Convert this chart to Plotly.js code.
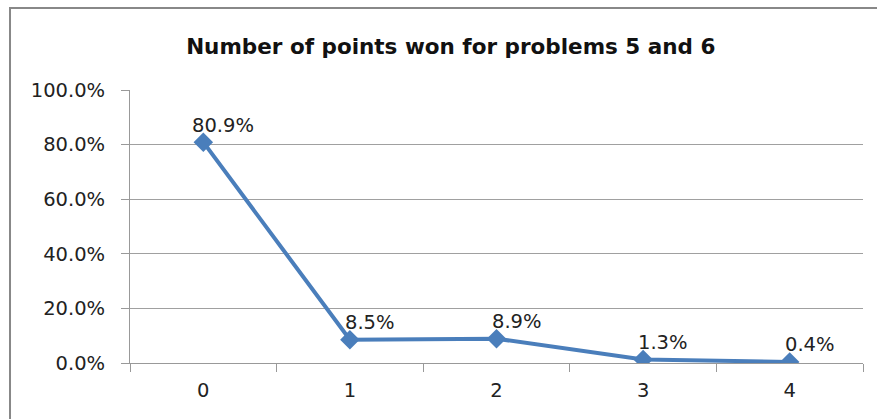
<!DOCTYPE html>
<html>
<head>
<meta charset="utf-8">
<script src="https://cdn.plot.ly/plotly-3.0.1.min.js"></script>
<style>
  html, body { margin: 0; padding: 0; background: #fff; }
  #graphDiv { width: 877px; height: 419px; }
</style>
</head>
<body>
<div id="graphDiv"></div>
<script>
// points won (category) and share of students
var points = ['0', '1', '2', '3', '4'];
var shares = [0.809, 0.085, 0.089, 0.013, 0.004];
var yTicks = [0, 0.2, 0.4, 0.6, 0.8, 1.0];

var lineColor = '#4A7EBB';
var textFont = { family: 'DejaVu Sans', size: 19.5, color: '#222' };

var trace = {
  x: points,
  y: shares,
  type: 'scatter',
  mode: 'lines+markers',
  line: { color: lineColor, width: 4 },
  marker: { symbol: 'diamond', size: 15, color: lineColor },
  hoverinfo: 'skip'
};

// data labels sit above and a little right of each point
var labels = [];
for (var i = 0; i < points.length; i++) {
  labels.push({
    x: points[i],
    y: shares[i],
    text: (shares[i] * 100).toFixed(1) + '%',
    showarrow: false,
    xshift: 20,
    yshift: 17,
    font: textFont
  });
}

var layout = {
  width: 877,
  height: 419,
  margin: { l: 130, r: 14, t: 90, b: 56 },
  paper_bgcolor: '#fff',
  plot_bgcolor: '#fff',
  showlegend: false,
  title: {
    text: '<b>Number of points won for problems 5 and 6</b>',
    font: { family: 'DejaVu Sans', size: 21.5, color: '#111' },
    x: 0.514,
    xanchor: 'center',
    y: 0.888,
    yanchor: 'middle'
  },
  xaxis: {
    type: 'category',
    range: [-0.5, 4.5],
    showgrid: false,
    showline: true,
    linecolor: '#999',
    linewidth: 1,
    ticks: 'outside',
    tickson: 'boundaries',
    ticklen: 8,
    tickcolor: '#999',
    ticklabelstandoff: 10,
    tickfont: textFont,
    zeroline: false
  },
  yaxis: {
    range: [0, 1],
    tickvals: yTicks,
    tickformat: '.1%',
    showgrid: true,
    gridcolor: '#a0a0a0',
    gridwidth: 1,
    showline: true,
    linecolor: '#999',
    ticks: 'outside',
    ticklen: 8,
    tickcolor: '#999',
    ticklabelstandoff: 12,
    tickfont: textFont,
    zeroline: false
  },
  annotations: labels,
  shapes: [{
    type: 'rect',
    xref: 'paper', yref: 'paper',
    x0: -0.1637, x1: 1.2,
    y0: -0.4, y1: 1.3,
    line: { color: '#888', width: 2 }
  }]
};

Plotly.newPlot('graphDiv', [trace], layout, { staticPlot: true });
</script>
</body>
</html>
